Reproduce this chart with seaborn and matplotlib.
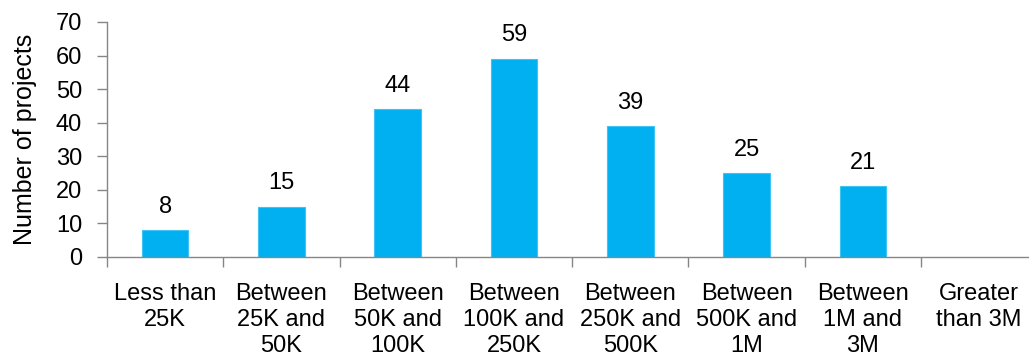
import numpy as np
import pandas as pd
import matplotlib
matplotlib.use("Agg")
import matplotlib.pyplot as plt
import seaborn as sns

# Project counts by total project budget
categories = [
    "Less than\n25K",
    "Between\n25K and\n50K",
    "Between\n50K and\n100K",
    "Between\n100K and\n250K",
    "Between\n250K and\n500K",
    "Between\n500K and\n1M",
    "Between\n1M and\n3M",
    "Greater\nthan 3M",
]
projects = [8, 15, 44, 59, 39, 25, 21, np.nan]
y_ticks = [0, 10, 20, 30, 40, 50, 60, 70]

sns.set_theme(style="white")
plt.rcParams["font.family"] = ["Liberation Sans", "DejaVu Sans"]

df = pd.DataFrame({"budget": categories, "projects": projects})

fig = plt.figure(figsize=(10.29, 3.64), dpi=100)
ax = fig.add_axes([0.104, 0.294, 0.904, 0.6456])

sns.barplot(data=df, x="budget", y="projects", order=categories,
            color="#00B0F0", width=0.4, edgecolor="#3FC3F3", linewidth=0.8,
            saturation=1, errorbar=None, ax=ax)

# value labels above each bar
for i, v in enumerate(projects):
    if not np.isnan(v):
        ax.annotate(f"{int(v)}", xy=(i, v), xytext=(0, 9),
                    textcoords="offset points", ha="center", va="bottom",
                    fontsize=17, color="black")

ax.set_xlim(-0.5, len(categories) - 0.5)
ax.set_ylim(0, 70)
ax.set_yticks(y_ticks)
ax.set_yticklabels([str(t) for t in y_ticks], fontsize=17)

# category labels at centers, tick marks at boundaries
ax.set_xticks(range(len(categories)))
ax.set_xticklabels(categories, fontsize=17, linespacing=1.22)
ax.set_xticks(np.arange(-0.5, len(categories), 1.0), minor=True)
ax.tick_params(axis="x", which="major", length=0, pad=19, colors="black")
ax.tick_params(axis="x", which="minor", length=7, width=1,
               color="#868686", direction="out", bottom=True)
ax.tick_params(axis="y", which="major", length=7, width=1,
               color="#868686", direction="out", left=True, pad=11,
               labelcolor="black")

ax.set_xlabel("")
ax.set_ylabel("Number of projects", fontsize=18, color="black")
ax.yaxis.set_label_coords(-0.075, 0.5)

for side in ["top", "right"]:
    ax.spines[side].set_visible(False)
for side in ["left", "bottom"]:
    ax.spines[side].set_color("#868686")
    ax.spines[side].set_linewidth(1)

fig.savefig("out.png", dpi=100)
